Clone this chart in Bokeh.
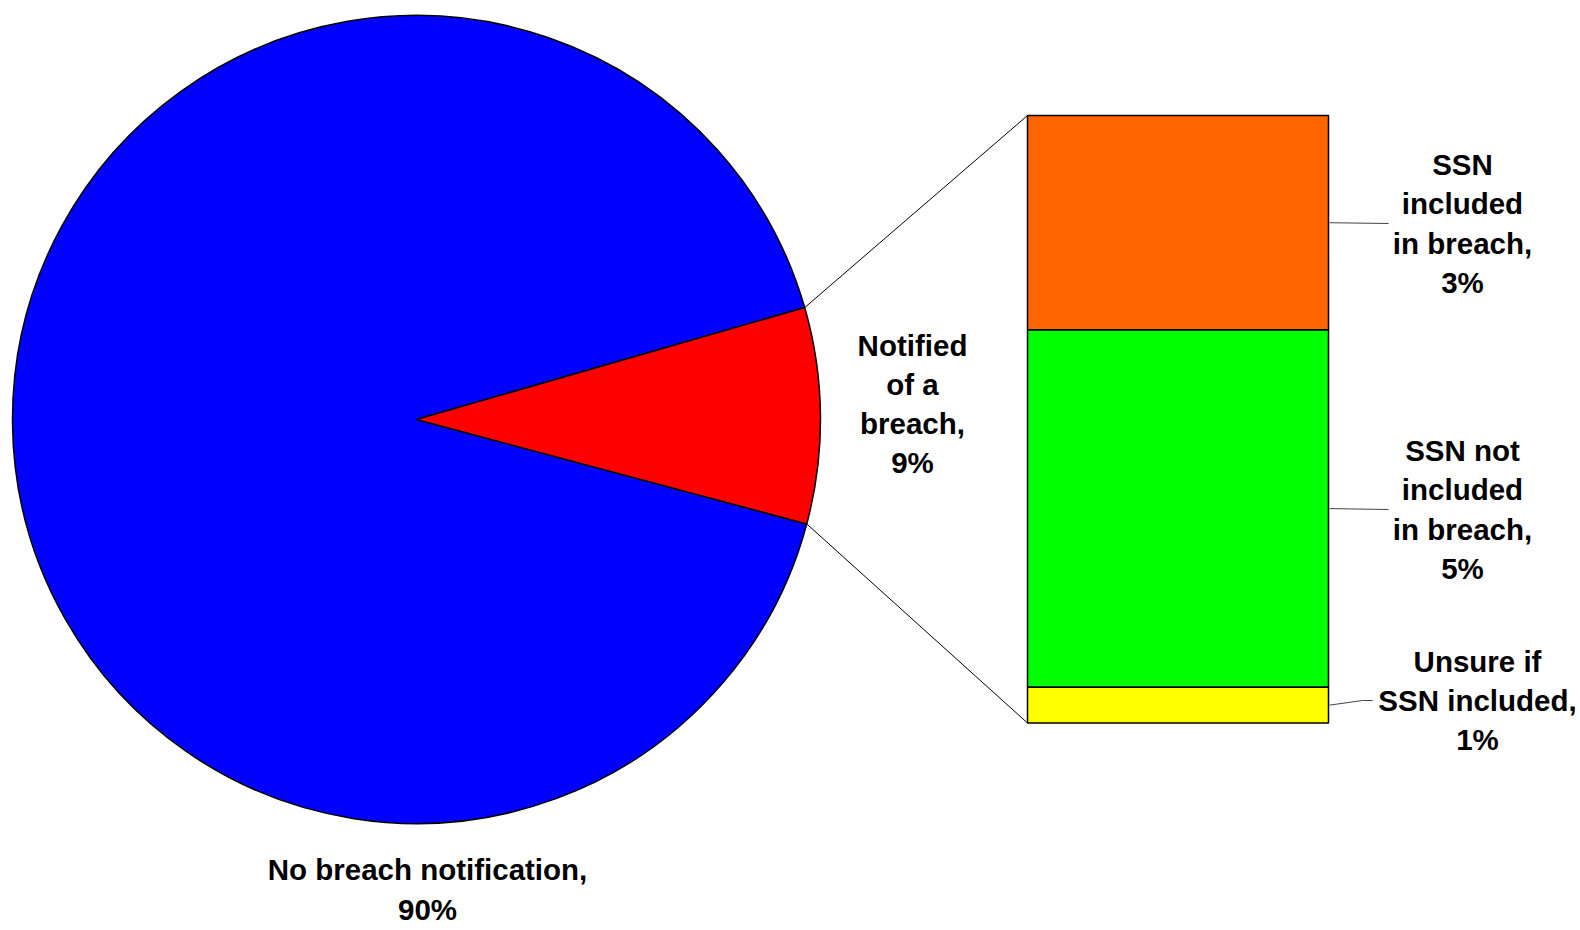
import numpy as np
from bokeh.plotting import figure
from bokeh.models import Range1d, ColumnDataSource
from bokeh.core.properties import value
from bokeh.embed import file_html
from bokeh.resources import INLINE

# ---------------- data ----------------
pie_labels = ["No breach notification,\n90%", "Notified\nof a\nbreach,\n9%"]
no_breach_value = 90.0
pie_colors = ["#0000FF", "#FF0000"]

bar_labels = ["SSN\nincluded\nin breach,\n3%",
              "SSN not\nincluded\nin breach,\n5%",
              "Unsure if\nSSN included,\n1%"]
bar_values = [3.0, 5.0, 0.5]
bar_colors = ["#FF6600", "#00FF00", "#FFFF00"]

notified_value = sum(bar_values)
pie_values = [no_breach_value, notified_value]

# ---------------- layout (screen px of the picture) ----------------
W, H = 1580, 930


def Y(sy):
    return H - sy


CX, CY, R = 416.0, Y(419.0), 404.0
MID_ANGLE = np.deg2rad(0.55)
BAR_L, BAR_R, BAR_TOP, BAR_H = 1027.0, 1328.0, Y(115.0), 607.5
FS = "29.5px"
LH = 39.3

p = figure(width=W, height=H, x_range=Range1d(0, W), y_range=Range1d(0, H),
           toolbar_location=None, output_backend="svg", x_axis_type=None, y_axis_type=None,
           min_border=0, min_border_left=0, min_border_right=0, min_border_top=0, min_border_bottom=0)
p.grid.visible = False
p.outline_line_color = None
p.background_fill_color = "white"
p.border_fill_color = "white"

# ---------------- pie ----------------
total = sum(pie_values)
red_span = 2 * np.pi * pie_values[1] / total
red_start = MID_ANGLE - red_span / 2
red_end = MID_ANGLE + red_span / 2
starts = [red_end, red_start]
ends = [red_start + 2 * np.pi, red_end]
p.wedge(x=[CX, CX], y=[CY, CY], radius=R, radius_units="screen",
        start_angle=starts, end_angle=ends, fill_color=pie_colors,
        line_color="black", line_width=1.5)

# ---------------- bar ----------------
scale = BAR_H / notified_value
cum = np.concatenate([[0.0], np.cumsum(bar_values)])
tops = BAR_TOP - scale * cum[:-1]
bottoms = BAR_TOP - scale * cum[1:]
p.quad(left=[BAR_L] * 3, right=[BAR_R] * 3, top=list(tops), bottom=list(bottoms),
       fill_color=bar_colors, line_color="black", line_width=1.5)
bar_bottom = bottoms[-1]

# connectors
ux, uy = CX + R * np.cos(red_end), CY + R * np.sin(red_end)
lx, ly = CX + R * np.cos(red_start), CY + R * np.sin(red_start)
p.segment(x0=[ux, lx], y0=[uy, ly], x1=[BAR_L, BAR_L], y1=[BAR_TOP, bar_bottom],
          line_color="black", line_width=1)

# ---------------- labels ----------------
mids = (tops + bottoms) / 2
label_pos = [
    (427.0, Y(889.0)),   # no breach
    (912.0, Y(403.5)),   # notified
    (1462.0, Y(223.0)),  # ssn included
    (1462.0, Y(509.0)),  # ssn not
    (1477.0, Y(700.0)),  # unsure
]
all_labels = pie_labels + bar_labels

# leader lines
p.line(x=[BAR_R + 1, 1388], y=[mids[0], label_pos[2][1]], line_color="#444444", line_width=1)
p.line(x=[BAR_R + 1, 1388], y=[mids[1], label_pos[3][1]], line_color="#444444", line_width=1)
p.line(x=[BAR_R + 1, 1362, 1372], y=[mids[2], label_pos[4][1], label_pos[4][1]],
       line_color="#444444", line_width=1)

xs, ys, ts = [], [], []
for (lxp, lyp), lab in zip(label_pos, all_labels):
    lines = lab.split("\n")
    n = len(lines)
    for k, ln in enumerate(lines):
        xs.append(lxp)
        ys.append(lyp + (n - 1) / 2 * LH - k * LH)
        ts.append(ln)
src = ColumnDataSource(dict(x=xs, y=ys, text=ts))
p.text(x="x", y="y", text="text", source=src, text_font=value("Liberation Sans"),
       text_font_style="bold", text_font_size=FS, text_align="center",
       text_baseline="middle", text_color="black")

open("out.html", "w").write(file_html(p, INLINE))
